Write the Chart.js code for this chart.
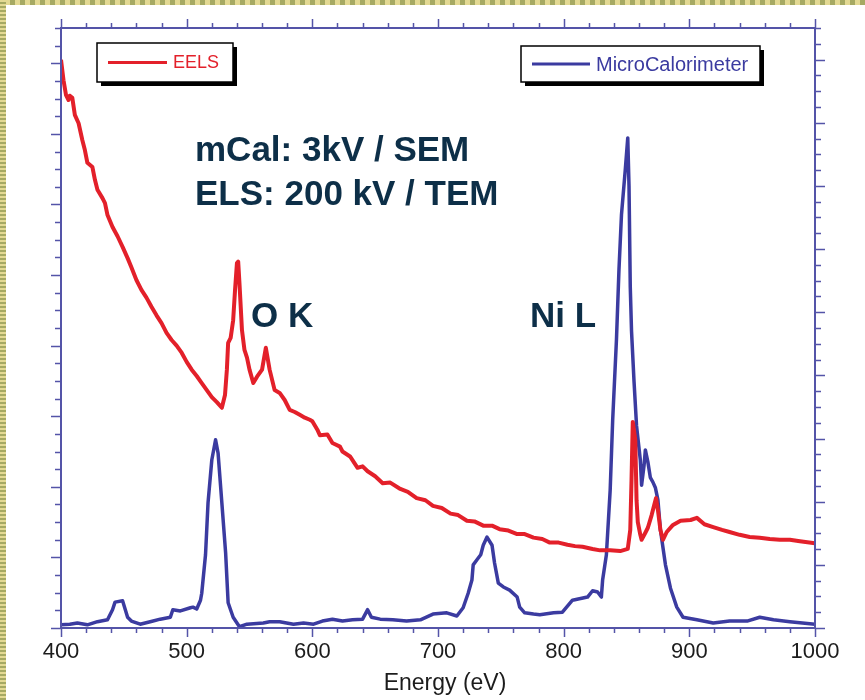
<!DOCTYPE html>
<html>
<head>
<meta charset="utf-8">
<script src="https://cdn.jsdelivr.net/npm/chart.js@4.4.1/dist/chart.umd.min.js"></script>
<style>
  html, body { margin: 0; padding: 0; }
  body { width: 865px; height: 700px; position: relative; overflow: hidden; background: #fff; }
  #topStrip { position: absolute; left: 0; top: 0; width: 865px; height: 5px;
    background: repeating-linear-gradient(90deg, #a6a963 0 5px, #e3d993 5px 10px); }
  #leftStrip { position: absolute; left: 0; top: 0; width: 6px; height: 700px;
    background: repeating-linear-gradient(0deg, #a6a963 0 2px, #e3d993 2px 4px); }
  #chart { position: absolute; left: 0; top: 0; }
</style>
</head>
<body>
<div id="topStrip"></div>
<div id="leftStrip"></div>
<canvas id="chart" width="865" height="700"></canvas>
<script>
// EELS spectrum (left axis, arbitrary counts)
let eelsEnergy = [400, 402, 404, 406, 407, 409, 411, 414, 417, 419,
    421, 425, 427, 429, 433, 435, 437, 441, 445, 449,
    453, 456, 460, 464, 468, 472, 476, 480, 484, 488,
    492, 496, 500, 504, 508, 512, 516, 520, 524, 528,
    530.5, 532, 533, 535, 537, 538.5, 540, 541, 542, 544,
    546, 548, 550, 553, 556, 560, 563, 566, 570, 574,
    578, 582, 586, 590, 594, 598, 600, 604, 606, 612,
    616, 622, 624, 630, 636, 640, 644, 650, 656, 662,
    670, 676, 683, 690, 696, 703, 710, 716, 723, 729,
    736, 743, 749, 756, 763, 769, 776, 783, 789, 796,
    803, 809, 815, 823, 829, 837, 845, 851, 853, 854,
    855, 857, 858, 859, 861, 862, 865, 867, 870, 872,
    873.5, 875, 877, 879, 882, 887, 893, 901, 906, 912,
    919, 926, 932, 940, 948, 956, 964, 972, 980, 988,
    1000];
let eelsCounts = [805, 776, 755, 748, 754, 751, 727, 715, 691, 677,
    659, 653, 635, 621, 609, 602, 585, 568, 555, 540,
    524, 511, 493, 479, 468, 455, 443, 432, 418, 408,
    400, 390, 377, 366, 357, 347, 337, 327, 320, 312,
    330, 366, 404, 411, 436, 479, 517, 519, 489, 422,
    394, 383, 366, 347, 356, 366, 397, 366, 337, 333,
    323, 309, 306, 302, 298, 295, 293, 281, 273, 274,
    262, 257, 250, 243, 227, 229, 222, 215, 205, 206,
    197, 193, 184, 181, 173, 170, 162, 160, 152, 151,
    145, 145, 140, 138, 133, 133, 128, 126, 121, 121,
    118, 116, 115, 112, 110, 110, 109, 112, 139, 210,
    292, 266, 181, 150, 132, 125, 135, 142, 160, 174,
    184, 167, 139, 125, 136, 146, 152, 153, 156, 147,
    143, 139, 136, 132, 129, 128, 126, 125, 125, 123,
    120];

// microcalorimeter spectrum (right axis, arbitrary counts)
let mcalEnergy = [400, 407, 413, 421, 429, 437, 441, 443, 449, 453,
    456, 463, 471, 479, 487, 489, 495, 503, 505, 508,
    511, 512, 515, 517, 520, 523, 525, 528, 531, 533,
    537, 542, 548, 561, 566, 574, 585, 593, 601, 608,
    616, 624, 632, 640, 644, 647, 654, 664, 675, 686,
    696, 707, 715, 720, 724, 727, 728, 731, 734, 736,
    739, 743, 745, 748, 752, 757, 763, 765, 769, 776,
    781, 792, 799, 807, 819, 823, 827, 830, 831, 834,
    837, 839, 842, 844, 846, 849, 851, 852, 853, 854,
    856, 858, 861, 862, 864, 865, 867, 869, 871, 873,
    875, 877, 881, 885, 890, 895, 906, 919, 932, 946,
    956, 967, 980, 1000];
let mcalCounts = [5, 6, 8, 5, 10, 13, 29, 41, 43, 17,
    11, 6, 10, 14, 17, 29, 27, 32, 33, 30,
    44, 55, 116, 198, 266, 298, 277, 198, 119, 40,
    17, 2, 6, 8, 10, 10, 6, 8, 6, 11,
    14, 11, 13, 14, 29, 17, 14, 13, 11, 13,
    22, 24, 19, 32, 55, 76, 100, 108, 116, 131,
    144, 131, 103, 71, 65, 60, 49, 33, 24, 22,
    21, 24, 25, 44, 49, 59, 57, 49, 76, 116,
    218, 329, 456, 567, 654, 725, 776, 700, 540, 470,
    390, 320, 266, 226, 258, 282, 263, 238, 231, 222,
    203, 155, 100, 63, 33, 17, 13, 8, 11, 11,
    17, 13, 10, 6];

let xTickLabels = ['400', '500', '600', '700', '800', '900', '1000'];
let notes = ['mCal: 3kV / SEM', 'ELS: 200 kV / TEM', 'O K', 'Ni L'];

let redLine = '#e3202a';
let blueLine = '#3b3ba0';
let frameColor = '#5454a8';
let noteColor = '#0d2f48';
let fontFamily = '"Liberation Sans", Arial, sans-serif';

function tickRun(scale, step, major, draw) {
    for (let v = scale.min; v <= scale.max + 1e-6; v += step) {
        let isMajor = Math.abs(v / major - Math.round(v / major)) < 1e-6;
        draw(Math.round(scale.getPixelForValue(v)) + 0.5, isMajor);
    }
}

function legendBox(ctx, x, y, w, h, lineFrom, lineTo, color, label, size) {
    ctx.fillStyle = '#000';
    ctx.fillRect(x + 4, y + 4, w, h);
    ctx.fillStyle = '#fff';
    ctx.fillRect(x, y, w, h);
    ctx.strokeStyle = '#000';
    ctx.lineWidth = 1.5;
    ctx.strokeRect(x, y, w, h);
    ctx.strokeStyle = color;
    ctx.lineWidth = 3;
    ctx.beginPath();
    ctx.moveTo(lineFrom, y + h / 2);
    ctx.lineTo(lineTo, y + h / 2);
    ctx.stroke();
    ctx.fillStyle = color;
    ctx.font = size + 'px ' + fontFamily;
    ctx.textAlign = 'left';
    ctx.textBaseline = 'middle';
    ctx.fillText(label, lineTo + 6, y + h / 2 + 1);
}

let framePlugin = {
    id: 'frame',
    afterDatasetsDraw(chart) {
        let ctx = chart.ctx;
        let area = chart.chartArea;
        let xs = chart.scales.x, yl = chart.scales.yL, yr = chart.scales.yR;
        ctx.save();

        // ticks on all four sides, pointing outwards
        ctx.strokeStyle = frameColor;
        ctx.lineWidth = 1.5;
        ctx.beginPath();
        tickRun(xs, 20, 100, (px, major) => {
            let len = major ? 9 : 5;
            ctx.moveTo(px, area.bottom); ctx.lineTo(px, area.bottom + len);
            ctx.moveTo(px, area.top); ctx.lineTo(px, area.top - len);
        });
        tickRun(yl, 25, 100, (py, major) => {
            let len = major ? 10 : 6;
            ctx.moveTo(area.left, py); ctx.lineTo(area.left - len, py);
        });
        tickRun(yr, 25, 100, (py, major) => {
            let len = major ? 10 : 6;
            ctx.moveTo(area.right, py); ctx.lineTo(area.right + len, py);
        });
        ctx.stroke();

        ctx.lineWidth = 2;
        ctx.strokeRect(area.left, area.top, area.right - area.left, area.bottom - area.top);

        // x tick labels and title
        ctx.fillStyle = '#1c1c1c';
        ctx.font = '22px ' + fontFamily;
        ctx.textAlign = 'center';
        ctx.textBaseline = 'middle';
        xTickLabels.forEach(t => {
            ctx.fillText(t, xs.getPixelForValue(Number(t)), 652);
        });
        ctx.font = '23px ' + fontFamily;
        ctx.fillText('Energy (eV)', 445, 684);

        // legends
        legendBox(ctx, 97, 43, 136, 39, 108, 167, redLine, 'EELS', 18);
        legendBox(ctx, 521, 46, 239, 36, 532, 590, blueLine, 'MicroCalorimeter', 20);

        // annotations
        ctx.fillStyle = noteColor;
        ctx.font = 'bold 35px ' + fontFamily;
        ctx.textAlign = 'left';
        ctx.textBaseline = 'alphabetic';
        ctx.fillText(notes[0], 195, 161);
        ctx.fillText(notes[1], 195, 205);
        ctx.fillText(notes[2], 251, 327);
        ctx.fillText(notes[3], 530, 327);

        ctx.restore();
    }
};

let ctx = document.getElementById('chart').getContext('2d');
let chart = new Chart(ctx, {
    type: 'line',
    data: {
        datasets: [{
            label: 'EELS',
            data: eelsEnergy.map((e, i) => ({ x: e, y: eelsCounts[i] })),
            yAxisID: 'yL',
            borderColor: redLine,
            borderWidth: 4,
            pointRadius: 0,
            tension: 0,
            borderJoinStyle: 'round'
        }, {
            label: 'MicroCalorimeter',
            data: mcalEnergy.map((e, i) => ({ x: e, y: mcalCounts[i] })),
            yAxisID: 'yR',
            borderColor: blueLine,
            borderWidth: 3.5,
            pointRadius: 0,
            tension: 0,
            borderJoinStyle: 'round'
        }]
    },
    options: {
        responsive: false,
        animation: false,
        devicePixelRatio: 1,
        layout: { padding: { left: 61, right: 50, top: 28, bottom: 72 } },
        plugins: { legend: { display: false }, tooltip: { enabled: false } },
        scales: {
            x: { type: 'linear', min: 400, max: 1000, display: false },
            yL: { type: 'linear', position: 'left', min: 0, max: 850, display: false },
            yR: { type: 'linear', position: 'right', min: 0, max: 950, display: false }
        }
    },
    plugins: [framePlugin]
});
</script>
</body>
</html>
